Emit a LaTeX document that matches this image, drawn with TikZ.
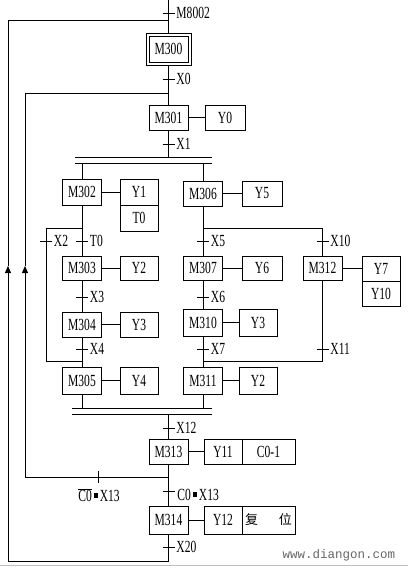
\documentclass[tikz,border=0pt]{standalone}
\usepackage{fontspec}
\setmainfont{Liberation Serif}[FakeStretch=0.68]
\newfontfamily\cjkfont{Noto Sans CJK SC}
\newfontfamily\webfont{Liberation Mono}
\usetikzlibrary{arrows.meta,calc}

\tikzset{
  stepbox/.style={draw, minimum width=39pt, minimum height=25pt, inner sep=0pt},
  outbox/.style={draw, minimum width=38pt, minimum height=25pt, inner sep=0pt},
  cond/.style={right, inner sep=1.5pt},
  upar/.style={-{Triangle[width=6pt,length=7pt]}},
}
\newcommand{\andsq}{\hspace{2pt}\rule[4pt]{4pt}{5pt}\hspace{2pt}}

\begin{document}
\begin{tikzpicture}[x=1pt, y=-1pt, line width=0.9pt, font=\fontsize{17}{17}\selectfont]
  \useasboundingbox (0,0) rectangle (408,568);

  % initial step and first step
  \node[stepbox, minimum width=45pt, minimum height=32pt] (m300o) at (168.5,49) {};
  \node[stepbox, minimum height=26pt] (m300) at (168.5,49) {M300};
  \node[stepbox] (m301) at (168.5,117.5) {M301};
  \node[outbox, minimum width=40pt] (y0) at (225,117.5) {Y0};

  % left branch
  \node[stepbox, minimum height=26pt] (m302) at (82,192) {M302};
  \node[outbox, minimum height=26pt] (y1) at (139,192) {Y1};
  \node[outbox, minimum height=26pt] (t0) at (139,218) {T0};
  \node[stepbox, minimum height=24pt] (m303) at (82,268) {M303};
  \node[outbox, minimum height=24pt] (y2a) at (139,268) {Y2};
  \node[stepbox] (m304) at (82,324.5) {M304};
  \node[outbox] (y3a) at (139,324.5) {Y3};
  \node[stepbox, minimum height=27pt] (m305) at (82,380.5) {M305};
  \node[outbox, minimum height=27pt] (y4) at (139,380.5) {Y4};

  % right branch
  \node[stepbox] (m306) at (203,193.5) {M306};
  \node[outbox, minimum width=40pt] (y5) at (262,193.5) {Y5};
  \node[stepbox, minimum height=24pt] (m307) at (203,268) {M307};
  \node[outbox, minimum width=40pt, minimum height=24pt] (y6) at (262,268) {Y6};
  \node[stepbox, minimum height=27pt] (m310) at (203,322.5) {M310};
  \node[outbox, minimum height=27pt] (y3b) at (258,322.5) {Y3};
  \node[stepbox, minimum height=27pt] (m311) at (203,380.5) {M311};
  \node[outbox, minimum height=27pt] (y2b) at (258,380.5) {Y2};
  \node[stepbox, minimum height=24pt] (m312) at (322.5,268) {M312};
  \node[outbox] (y7) at (381,268.5) {Y7};
  \node[outbox] (y10) at (381,293.5) {Y10};

  % counting and reset steps
  \node[stepbox] (m313) at (168.5,451.5) {M313};
  \node[outbox] (y11) at (223,451.5) {Y11};
  \node[outbox, minimum width=53pt] (c01) at (268.5,451.5) {C0-1};
  \node[stepbox, minimum height=28pt] (m314) at (168.5,520) {M314};
  \node[outbox, minimum height=28pt] (y12) at (223,520) {Y12};
  \node[outbox, minimum width=53pt, minimum height=28pt, font=\cjkfont\fontsize{13}{13}\selectfont] (reset) at (268.5,520) {复\hspace{21pt}位};

  % junction points
  \coordinate (top) at (168.5,0);
  \coordinate (ret) at (168.5,20);
  \coordinate (ret2) at (168.5,93);
  \coordinate (bar1) at (168.5,157);
  \coordinate (bar2) at (168.5,163);
  \coordinate (lpA) at (46,228);
  \coordinate (lpB) at (46,361);
  \coordinate (rA) at (322.5,228);
  \coordinate (rB) at (322.5,361);
  \coordinate (jn1) at (168.5,408);
  \coordinate (jn2) at (168.5,414);
  \coordinate (cnt) at (168.5,477);
  \coordinate (ib1) at (25,477);
  \coordinate (ib2) at (25,266);
  \coordinate (ib3) at (25,93);
  \coordinate (ob0) at (168.5,561);
  \coordinate (ob1) at (8,561);
  \coordinate (ob2) at (8,266);
  \coordinate (ob3) at (8,20);

  % main line
  \draw (top) -- (m300o.north);
  \draw (m300o.south) -- (m301.north);
  \draw (m301.south) -- (bar1);
  \draw (75,157) -- (212,157);
  \draw (75,163) -- (212,163);
  \draw (m302.north |- bar2) -- (m302.north);
  \draw (m306.north |- bar2) -- (m306.north);

  % left branch lines
  \draw (m302.south) -- (m303.north);
  \draw (m303.south) -- (m304.north);
  \draw (m304.south) -- (m305.north);
  \draw (m302.south |- lpA) -- (lpA) -- (lpB) -- (m305.north |- lpB);

  % right branch lines
  \draw (m306.south) -- (m307.north);
  \draw (m307.south) -- (m310.north);
  \draw (m310.south) -- (m311.north);
  \draw (m306.south |- rA) -- (rA) -- (m312.north);
  \draw (m312.south) -- (rB) -- (m311.north |- rB);

  % merge
  \draw (m305.south) -- (m305.south |- jn1);
  \draw (m311.south) -- (m311.south |- jn1);
  \draw (72,408) -- (212,408);
  \draw (72,414) -- (212,414);
  \draw (jn2) -- (m313.north);
  \draw (m313.south) -- (m314.north);

  % return loops
  \draw[upar] (cnt) -- (ib1) -- (ib2);
  \draw (ib2) -- (ib3) -- (ret2);
  \draw[upar] (m314.south) -- (ob0) -- (ob1) -- (ob2);
  \draw (ob2) -- (ob3) -- (ret);

  % action links
  \draw (m301) -- (y0);
  \draw (m302) -- (y1);
  \draw (m303) -- (y2a);
  \draw (m304) -- (y3a);
  \draw (m305) -- (y4);
  \draw (m306) -- (y5);
  \draw (m307) -- (y6);
  \draw (m310) -- (y3b);
  \draw (m311) -- (y2b);
  \draw (m312.east) -- (m312.east -| y7.west);
  \draw (m313) -- (y11);
  \draw (m314) -- (y12);

  % transitions
  \draw (162.5,13) -- (174.5,13) node[cond] {M8002};
  \draw (162.5,79) -- (174.5,79) node[cond] {X0};
  \draw (162.5,144) -- (174.5,144) node[cond] {X1};
  \draw (40,241) -- (52,241) node[cond] {X2};
  \draw (76,241) -- (88,241) node[cond] {T0};
  \draw (76,297) -- (88,297) node[cond] {X3};
  \draw (76,349) -- (88,349) node[cond] {X4};
  \draw (197,241) -- (209,241) node[cond] {X5};
  \draw (197,297) -- (209,297) node[cond] {X6};
  \draw (197,349) -- (209,349) node[cond] {X7};
  \draw (316.5,241) -- (328.5,241) node[cond] {X10};
  \draw (316.5,349) -- (328.5,349) node[cond] {X11};
  \draw (162.5,428) -- (174.5,428) node[cond] {X12};
  \draw (98,471) -- (98,483);
  \node (c0n) at (99,495) {$\overline{\mbox{C0}}$\andsq X13};
  \draw (162.5,491) -- (174.5,491);
  \node[right, inner sep=0pt] (c0) at (177,495) {C0\andsq X13};
  \draw (162.5,547) -- (174.5,547) node[cond] {X20};

  % site mark
  \node[text=black!60, font=\webfont\fontsize{12.5}{12.5}\selectfont] (wm) at (339,555) {www.diangon.com};
  \draw[black!25, line width=0.6pt] (0,565) -- (408,565);
\end{tikzpicture}
\end{document}
